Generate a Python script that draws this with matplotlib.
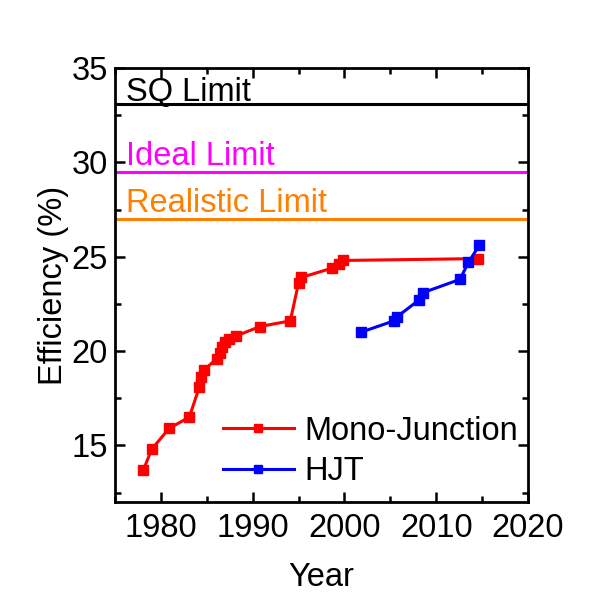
import numpy as np
import matplotlib
matplotlib.use('Agg')
import matplotlib.pyplot as plt
from matplotlib.ticker import MultipleLocator

# Record efficiencies of crystalline silicon cells
mono_year = [1978.1, 1979.0, 1980.9, 1983.1, 1984.2, 1984.4, 1984.7, 1986.1, 1986.4,
             1986.7, 1987.0, 1987.4, 1988.2, 1990.8, 1994.1, 1995.0, 1995.3, 1998.7,
             1999.4, 1999.8, 2014.6]
mono_eff = [13.7, 14.8, 15.9, 16.5, 18.1, 18.6, 19.0, 19.6, 19.9,
            20.2, 20.5, 20.65, 20.8, 21.3, 21.6, 23.6, 23.9, 24.4,
            24.6, 24.8, 24.9]

hjt_year = [2001.8, 2005.4, 2005.7, 2008.1, 2008.6, 2012.6, 2013.5, 2014.7]
hjt_eff = [21.0, 21.6, 21.8, 22.7, 23.1, 23.8, 24.7, 25.6]

limit_names = ['SQ Limit', 'Ideal Limit', 'Realistic Limit']
limit_values = [33.1, 29.5, 27.0]
limit_colors = ['black', '#FF00FF', '#FF8000']

FS = 23.5
plt.rcParams['font.family'] = ['Liberation Sans', 'DejaVu Sans']
plt.rcParams['font.size'] = FS

fig = plt.figure(figsize=(5.97, 5.96), dpi=100)
ax = fig.add_axes([0.1926, 0.1577, 0.6918, 0.7282])

# Theoretical limits, label sits just above each line
text_gap = [0.17, 0.35, 0.38]
for name, val, col, gap in zip(limit_names, limit_values, limit_colors, text_gap):
    ax.axhline(val, color=col, lw=2.2, zorder=1)
    ax.text(1976.2, val + gap, name, color=col, fontsize=FS,
            ha='left', va='baseline')

ax.plot(mono_year, mono_eff, color='#FF0000', lw=2.2, marker='s',
        markersize=7, label='Mono-Junction', zorder=3)
ax.plot(hjt_year, hjt_eff, color='#0000FF', lw=2.2, marker='s',
        markersize=7, label='HJT', zorder=3)

ax.set_xlim(1975, 2020)
ax.set_ylim(12, 35)
ax.xaxis.set_major_locator(MultipleLocator(10))
ax.xaxis.set_minor_locator(MultipleLocator(5))
ax.yaxis.set_major_locator(MultipleLocator(5))
ax.yaxis.set_minor_locator(MultipleLocator(2.5))
ax.tick_params(which='both', direction='in', top=True, right=True, width=1.8)
ax.tick_params(which='major', length=7)
ax.tick_params(axis='x', which='major', pad=8)
ax.tick_params(axis='y', which='major', pad=5)
ax.tick_params(which='minor', length=4)
for sp in ax.spines.values():
    sp.set_linewidth(2)

ax.set_xlabel('Year', fontsize=FS, labelpad=13)
ax.set_ylabel('Efficiency (%)', fontsize=FS, labelpad=2)

ax.legend(loc='upper left', bbox_to_anchor=(0.221, 0.236), frameon=False,
          handlelength=2.2, handletextpad=0.3, labelspacing=0.28,
          borderpad=0, markerscale=0.8, fontsize=FS)

fig.savefig('out.png', dpi=100)
